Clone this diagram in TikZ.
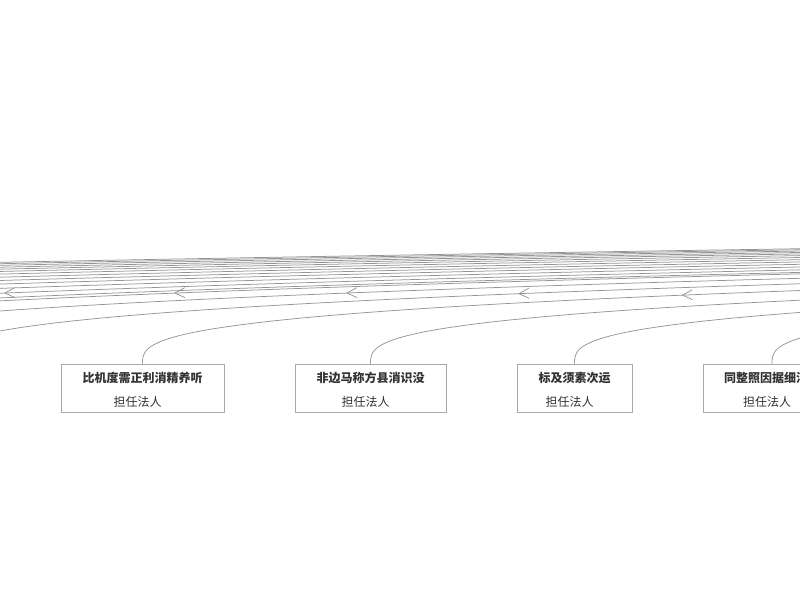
\documentclass[tikz,border=0pt]{standalone}
\usepackage{fontspec}
\setmainfont{Noto Sans CJK SC}
\usetikzlibrary{decorations.markings}
\definecolor{edgegray}{HTML}{959595}
\definecolor{boxgray}{HTML}{A8A8A8}
\definecolor{txt}{HTML}{333333}
\tikzset{
  edge/.style={draw=edgegray, line width=0.75pt},
  box/.style={draw=boxgray, line width=0.7pt, fill=white, minimum height=48pt,
    inner sep=0pt, align=center, text=txt, font=\fontsize{12}{24}\selectfont},
  chev/.style={decoration={markings, mark=at position #1 with
    {\draw[edgegray, line width=0.75pt] (10pt,5pt) -- (0pt,0pt) -- (10pt,-5pt);}},
    postaction={decorate}},
}
\newcommand{\subtxt}{担任法人\hspace*{10pt}}
\newcommand{\ttl}[1]{\rule{0pt}{14.5pt}\textbf{#1}}
\begin{document}
\begin{tikzpicture}[x=1pt,y=-1pt]
\useasboundingbox (0,0) rectangle (800,600);
\clip (0,0) rectangle (800,600);

% visible boxes
\node[box, minimum width=163pt] (b1) at (142.5,388) {\ttl{比机度需正利消精养听}\\\subtxt};
\node[box, minimum width=151pt] (b2) at (370.5,388) {\ttl{非边马称方县消识没}\\\subtxt};
\node[box, minimum width=115pt] (b3) at (574.5,388) {\ttl{标及须素次运}\\\subtxt};
\node[box, minimum width=138pt] (b4) at (772,388) {\ttl{同整照因据细消精}\\\subtxt};

% far targets of the visible boxes' edges
\coordinate (tb1) at (3142.5,242.3);
\coordinate (tb2) at (3370.5,242.3);
\coordinate (tb3) at (3574.5,242.3);
\coordinate (tb4) at (3772,242.3);

\draw[edge, chev=556pt] (b1.north) .. controls +(0,-40.6) and +(-3000,40.6) .. (tb1);
\draw[edge] (b2.north) .. controls +(0,-40.6) and +(-3000,40.6) .. (tb2);
\draw[edge] (b3.north) .. controls +(0,-40.6) and +(-3000,40.6) .. (tb3);
\draw[edge] (b4.north) .. controls +(0,-40.6) and +(-3000,40.6) .. (tb4);

% edges of boxes lying left of the view
\coordinate (sa) at (-60,364);   \coordinate (ta) at (2940,242.3);
\coordinate (sb) at (-248,364);  \coordinate (tb) at (2752,242.3);
\coordinate (sc) at (-419,364);  \coordinate (tc) at (2581,242.3);
\coordinate (sd) at (-590,364);  \coordinate (td) at (2410,242.3);
\draw[edge, chev=595pt] (sa) .. controls +(0,-40.6) and +(-3000,40.6) .. (ta);
\draw[edge, chev=611pt] (sb) .. controls +(0,-40.6) and +(-3000,40.6) .. (tb);
\draw[edge, chev=610pt] (sc) .. controls +(0,-40.6) and +(-3000,40.6) .. (tc);
\draw[edge, chev=611pt] (sd) .. controls +(0,-40.6) and +(-3000,40.6) .. (td);

\foreach \xb/\n in {-480/e,-720/f,-850/g,-970/h,-1090/i,-1210/j,-1320/k,-1420/l,-1510/m,-1600/n,-1680/o,-1750/p}{
  \coordinate (s\n) at (\xb,364);
  \coordinate (t\n) at (\xb+3000,242.3);
  \draw[edge] (s\n) .. controls +(0,-40.6) and +(-3000,40.6) .. (t\n);
}
\end{tikzpicture}
\end{document}
